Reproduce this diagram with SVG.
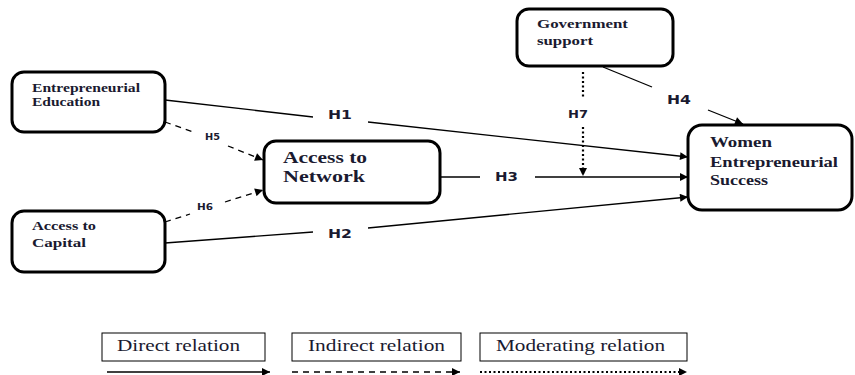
<svg xmlns="http://www.w3.org/2000/svg" width="855" height="375" viewBox="0 0 855 375">
<style>
.node{fill:#fff;stroke:#000;stroke-width:3}
.nt{font-family:"Liberation Serif",serif;font-weight:bold;fill:#1a1a30}
.h{font-family:"DejaVu Sans",sans-serif;font-weight:bold;fill:#1a1a30;font-size:12px}
.ln{stroke:#000;stroke-width:1.3;fill:none}
.dash{stroke-dasharray:6,5}
.dot{stroke-dasharray:2,2.5;stroke-width:2.2}
.lg{fill:#fff;stroke:#000;stroke-width:1}
.lt{font-family:"Liberation Serif",serif;font-size:16px;fill:#1a1a30}
</style>
<defs>
<marker id="ar" viewBox="0 0 10 10" refX="10" refY="5" markerWidth="10" markerHeight="8" markerUnits="userSpaceOnUse" orient="auto"><path d="M0,0 L10,5 L0,10 z" fill="#000"/></marker>
</defs>
<rect width="855" height="375" fill="#fff"/>
<g id="connectors">
<polyline class="ln" points="165,100 313,117"/>
<polyline class="ln" points="368,122 688,157" marker-end="url(#ar)"/>
<polyline class="ln" points="440,177 480,177"/>
<polyline class="ln" points="535,177 688,177" marker-end="url(#ar)"/>
<polyline class="ln" points="165,243 313,232"/>
<polyline class="ln" points="368,228 688,197" marker-end="url(#ar)"/>
<polyline class="ln" points="603,67 652,87"/>
<polyline class="ln" points="708,110 743,124" marker-end="url(#ar)"/>
<polyline class="ln dot" points="583,72 583,99"/>
<polyline class="ln dot" points="583,127 583,176" marker-end="url(#ar)"/>
<polyline class="ln dash" points="165,122 196,133"/>
<polyline class="ln dash" points="228,146 263,160" marker-end="url(#ar)"/>
<polyline class="ln dash" points="165,222 190,214"/>
<polyline class="ln dash" points="225,202 263,190" marker-end="url(#ar)"/>
<text class="h" x="328" y="119" textLength="24" lengthAdjust="spacingAndGlyphs">H1</text>
<text class="h" x="328" y="238" textLength="24" lengthAdjust="spacingAndGlyphs">H2</text>
<text class="h" x="495" y="181" textLength="23" lengthAdjust="spacingAndGlyphs">H3</text>
<text class="h" x="667" y="104" textLength="24" lengthAdjust="spacingAndGlyphs">H4</text>
<text class="h" x="568" y="118" textLength="20" lengthAdjust="spacingAndGlyphs" style="font-size:11px">H7</text>
<text class="h" x="205" y="140" textLength="15" lengthAdjust="spacingAndGlyphs" style="font-size:8.5px">H5</text>
<text class="h" x="197" y="210" textLength="16" lengthAdjust="spacingAndGlyphs" style="font-size:9.5px">H6</text>
</g>
<g id="ee"><rect class="node" x="12" y="72" width="153" height="60" rx="12"/>
<text class="nt" font-size="12" x="32" y="92" textLength="108" lengthAdjust="spacingAndGlyphs">Entrepreneurial</text>
<text class="nt" font-size="12" x="32" y="106" textLength="68" lengthAdjust="spacingAndGlyphs">Education</text></g>
<g id="ac"><rect class="node" x="12" y="211" width="153" height="61" rx="12"/>
<text class="nt" font-size="13.5" x="32" y="230" textLength="64" lengthAdjust="spacingAndGlyphs">Access to</text>
<text class="nt" font-size="13.5" x="32" y="247" textLength="54" lengthAdjust="spacingAndGlyphs">Capital</text></g>
<g id="an"><rect class="node" x="264" y="141" width="176" height="62" rx="12"/>
<text class="nt" font-size="16" x="283" y="163" textLength="84" lengthAdjust="spacingAndGlyphs">Access to</text>
<text class="nt" font-size="16" x="283" y="182" textLength="82" lengthAdjust="spacingAndGlyphs">Network</text></g>
<g id="gs"><rect class="node" x="517" y="9" width="156" height="57" rx="12"/>
<text class="nt" font-size="12.5" x="537" y="28" textLength="91" lengthAdjust="spacingAndGlyphs">Government</text>
<text class="nt" font-size="12.5" x="537" y="45" textLength="56" lengthAdjust="spacingAndGlyphs">support</text></g>
<g id="wes"><rect class="node" x="688" y="125" width="164" height="85" rx="14"/>
<text class="nt" font-size="14" x="710" y="147" textLength="62" lengthAdjust="spacingAndGlyphs">Women</text>
<text class="nt" font-size="14" x="710" y="167" textLength="128" lengthAdjust="spacingAndGlyphs">Entrepreneurial</text>
<text class="nt" font-size="14" x="710" y="185" textLength="58" lengthAdjust="spacingAndGlyphs">Success</text></g>
<g id="legend">
<rect class="lg" x="102" y="333" width="163" height="28"/>
<text class="lt" x="117" y="351" textLength="123" lengthAdjust="spacingAndGlyphs">Direct relation</text>
<rect class="lg" x="292" y="333" width="169" height="28"/>
<text class="lt" x="308" y="351" textLength="137" lengthAdjust="spacingAndGlyphs">Indirect relation</text>
<rect class="lg" x="480" y="333" width="207" height="28"/>
<text class="lt" x="496" y="351" textLength="169" lengthAdjust="spacingAndGlyphs">Moderating relation</text>
<line class="ln" x1="107" y1="372" x2="270" y2="372" marker-end="url(#ar)"/>
<line class="ln dash" x1="292" y1="372" x2="460" y2="372" marker-end="url(#ar)"/>
<line class="ln dot" x1="480" y1="372" x2="687" y2="372" marker-end="url(#ar)"/>
</g>
</svg>
